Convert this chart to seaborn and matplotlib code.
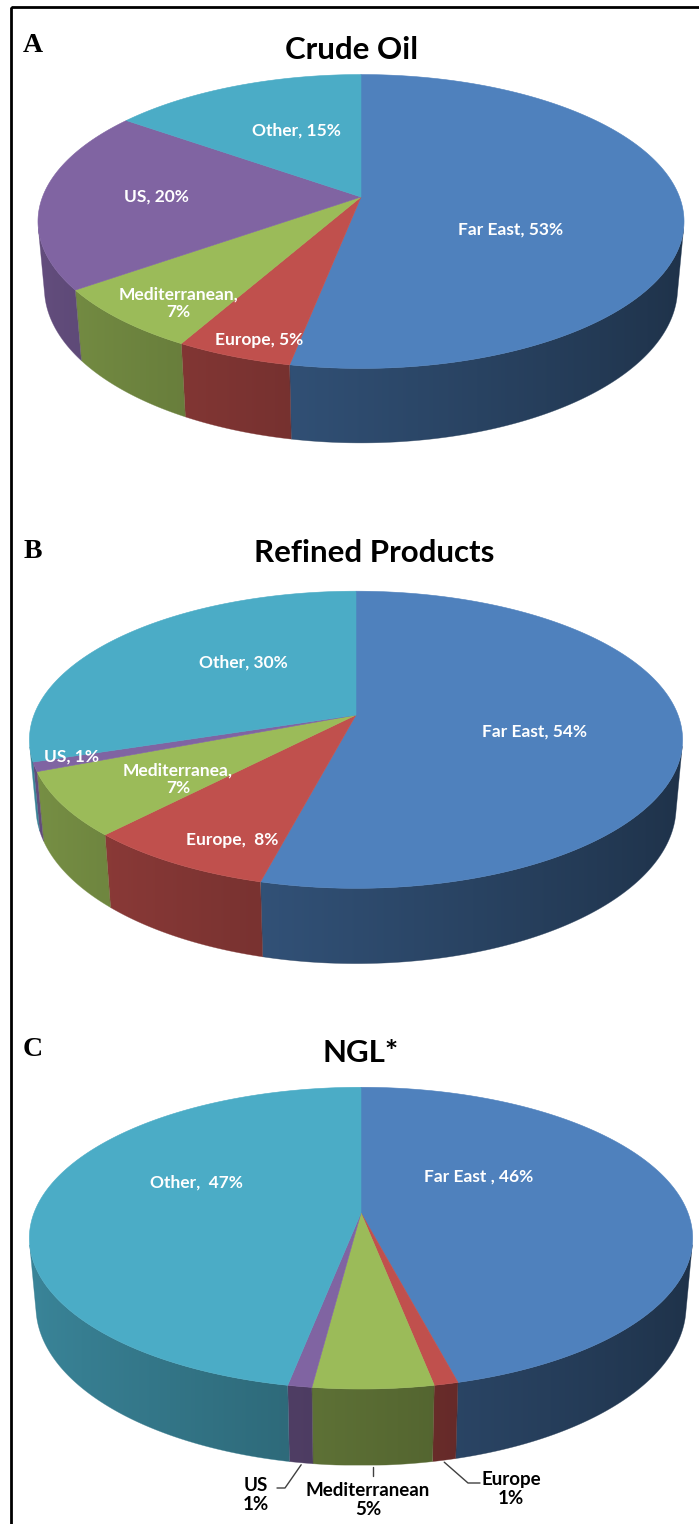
import numpy as np
import matplotlib
matplotlib.use("Agg")
import matplotlib.pyplot as plt
from matplotlib.patches import Polygon, Rectangle
import seaborn as sns

# ---- data (clockwise from 12 o'clock) ----
regions = ["Far East", "Europe", "Mediterranean", "US", "Other"]
crude_oil = [53, 5, 7, 20, 15]
refined_products = [54, 8, 7, 1, 30]
ngl = [46, 1, 5, 1, 47]

crude_labels = ["Far East, 53%", "Europe, 5%", "Mediterranean,\n7%", "US, 20%", "Other, 15%"]
refined_labels = ["Far East, 54%", "Europe,  8%", "Mediterranea,\n7%", "US, 1%", "Other, 30%"]
ngl_labels = ["Far East , 46%", "Europe\n1%", "Mediterranean\n5%", "US\n1%", "Other,  47%"]

titles = ["Crude Oil", "Refined Products", "NGL*"]
letters = ["A", "B", "C"]

# excel-like colours
palette = sns.color_palette(["#4F81BD", "#C0504D", "#9BBB59", "#8064A2", "#4BACC6"])

# ---- 3d view ----
TILT = np.radians(26.65)
SIN, COS = np.sin(TILT), np.cos(TILT)
DIST = 6 * COS
THICK = 0.235


def project(x, y, z):
    depth = DIST + y * COS - z * SIN
    return DIST * x / depth, DIST * (y * SIN + z * COS) / depth


def wall_shade(t):
    # light from the upper left, right side in shadow
    return 0.58 - 0.2 * np.cos(t)


def draw_pie(ax, values, cx, cy, scale):
    frac = np.asarray(values, dtype=float) / sum(values)
    edges = np.concatenate([[0], np.cumsum(frac)]) * 2 * np.pi

    def to_px(x, y, z):
        sx, sy = project(np.asarray(x), np.asarray(y), np.asarray(z))
        return cx + scale * sx, cy - scale * sy

    limit = -1 / (DIST * COS)
    for i, (a0, a1) in enumerate(zip(edges[:-1], edges[1:])):
        base = np.array(palette[i])
        n = max(int(np.degrees(a1 - a0) * 4), 2) + 1
        t = np.pi / 2 - np.linspace(a0, a1, n)

        # side wall (only the part facing the viewer), with a shading gradient
        vis = np.sin(t) < limit
        if vis.sum() >= 2:
            tv = t[vis]
            tx, ty = to_px(np.cos(tv), np.sin(tv), np.zeros_like(tv))
            bx, by = to_px(np.cos(tv), np.sin(tv), np.full_like(tv, -THICK))
            poly = np.column_stack([np.concatenate([tx, bx[::-1]]),
                                    np.concatenate([ty, by[::-1]])])
            x0, x1 = poly[:, 0].min(), poly[:, 0].max()
            y0, y1 = poly[:, 1].min(), poly[:, 1].max()
            cols = np.linspace(x0, x1, max(int(x1 - x0) * 2, 2))
            order = np.argsort(tx)
            shade = np.interp(cols, tx[order], wall_shade(tv[order]))
            img = np.clip(base[None, None, :] * shade[None, :, None], 0, 1)
            img = np.repeat(img, 2, axis=0)
            im = ax.imshow(img, extent=[x0, x1, y1, y0], aspect="auto",
                           interpolation="bilinear", zorder=1)
            clip = Polygon(poly, closed=True, fc="none", ec="none",
                           transform=ax.transData)
            ax.add_patch(clip)
            im.set_clip_path(clip)
            edge_col = np.clip(base * wall_shade(tv.mean()), 0, 1)
            ax.add_patch(Polygon(poly, closed=True, fc="none", ec=edge_col,
                                 lw=0.4, alpha=0.6, zorder=1.5))

        # top face
        xs = np.concatenate([[0], np.cos(t)])
        ys = np.concatenate([[0], np.sin(t)])
        px, py = to_px(xs, ys, np.zeros_like(xs))
        ax.add_patch(Polygon(np.column_stack([px, py]), closed=True,
                             fc=base, ec=base, lw=0.4, zorder=2))
    return edges, to_px


sns.set_theme(style="white")
plt.rcParams["font.family"] = ["Lato", "DejaVu Sans"]

fig = plt.figure(figsize=(6.99, 15.24), dpi=100)
ax = fig.add_axes([0, 0, 1, 1])
ax.axis("off")

# frame
ax.add_patch(Rectangle((11, 7), 720, 1560, fill=False, ec="black", lw=2, zorder=5))

panels = [
    dict(values=crude_oil, labels=crude_labels, cx=361, cy=197, scale=318.5,
         title_xy=(352, 50), letter_xy=(33, 46),
         label_xy=[(511, 230), (259, 340), (178, 303), (156, 197), (296, 131)]),
    dict(values=refined_products, labels=refined_labels, cx=356, cy=715, scale=322,
         title_xy=(374, 553), letter_xy=(33, 552),
         label_xy=[(535, 732), (232, 840), (178, 779), (71, 757), (243, 663)]),
    dict(values=ngl, labels=ngl_labels, cx=361, cy=1213, scale=327,
         title_xy=(361, 1053), letter_xy=(33, 1050),
         label_xy=[(479, 1177), (511, 1489), (368, 1500), (256, 1495), (196, 1183)]),
]

# leader lines for the small NGL slices: elbow / end points of the line
ngl_leaders = {1: [(468, 1483), (480, 1483)], 2: [(None, 1476)], 3: [(285, 1488), (277, 1488)]}

for p, (panel, title, letter) in enumerate(zip(panels, titles, letters)):
    edges, to_px = draw_pie(ax, panel["values"], panel["cx"], panel["cy"], panel["scale"])
    ax.text(*panel["title_xy"], title, ha="center", va="center",
            fontsize=22.5, fontweight="bold", color="black")
    ax.text(*panel["letter_xy"], letter, ha="center", va="center",
            fontsize=20, fontweight="bold", family="Liberation Serif", color="black")
    for i, (lab, xy) in enumerate(zip(panel["labels"], panel["label_xy"])):
        outside = p == 2 and i in ngl_leaders
        ax.text(*xy, lab, ha="center", va="center",
                fontsize=13.5 if outside else 12.5, fontweight="bold",
                color="black" if outside else "white", linespacing=1.15, zorder=4)
        if outside:
            mid = np.pi / 2 - 0.5 * (edges[i] + edges[i + 1])
            sx, sy = to_px(np.cos(mid), np.sin(mid), -THICK)
            pts = [(float(sx), float(sy) + 2)]
            for ex, ey in ngl_leaders[i]:
                pts.append((float(sx) if ex is None else ex, ey))
            xs, ys = zip(*pts)
            ax.plot(xs, ys, color="#404040", lw=1, zorder=4)

ax.set_xlim(0, 699)
ax.set_ylim(1524, 0)
fig.savefig("out.png", dpi=100)
